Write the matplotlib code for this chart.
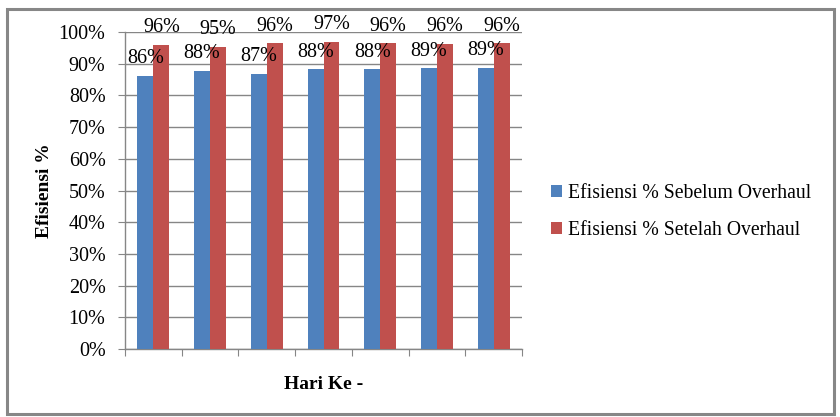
import matplotlib

matplotlib.use("Agg")
import matplotlib.pyplot as plt
from matplotlib.patches import Rectangle
from matplotlib.ticker import FixedLocator, PercentFormatter

# efficiency per day, before and after overhaul (fraction)
days = [1, 2, 3, 4, 5, 6, 7]
sebelum = [0.862, 0.877, 0.868, 0.883, 0.882, 0.886, 0.888]
setelah = [0.960, 0.954, 0.964, 0.970, 0.964, 0.963, 0.964]
series_names = ["Efisiensi % Sebelum Overhaul", "Efisiensi % Setelah Overhaul"]

BLUE = "#4F81BD"
RED = "#C0504D"
GRID = "#868686"

plt.rcParams["font.family"] = ["Liberation Serif", "DejaVu Serif"]
plt.rcParams["font.size"] = 14

fig = plt.figure(figsize=(8.4, 4.17), dpi=100)
ax = fig.add_axes([125 / 840, 68 / 417, 397 / 840, 317 / 417])

x = list(range(len(days)))
w = 0.282
b1 = ax.bar([i - w / 2 for i in x], sebelum, width=w, color=BLUE, label=series_names[0], zorder=3)
b2 = ax.bar([i + w / 2 for i in x], setelah, width=w, color=RED, label=series_names[1], zorder=3)

for bars, vals in ((b1, sebelum), (b2, setelah)):
    for rect, v in zip(bars, vals):
        ax.annotate(f"{v * 100:.0f}%", (rect.get_x() + rect.get_width() / 2, v),
                    xytext=(0, 9), textcoords="offset points",
                    ha="center", va="baseline", fontsize=14.5, zorder=4,
                    annotation_clip=False)

ax.set_xlim(-0.5, len(days) - 0.5)
ax.set_ylim(0, 1.0)
ax.yaxis.set_major_locator(FixedLocator([i / 10 for i in range(11)]))
ax.yaxis.set_major_formatter(PercentFormatter(1.0, decimals=0))
ax.xaxis.set_major_locator(FixedLocator([i - 0.5 for i in range(len(days) + 1)]))
ax.set_xticklabels([])

ax.grid(axis="y", color=GRID, linewidth=1.0, zorder=0)
for s in ("top", "right"):
    ax.spines[s].set_visible(False)
for s in ("left", "bottom"):
    ax.spines[s].set_color(GRID)
    ax.spines[s].set_linewidth(1.0)
ax.tick_params(axis="y", length=5, color=GRID, pad=9, labelsize=14.5)
ax.tick_params(axis="x", length=5, color=GRID)

ax.set_ylabel("Efisiensi %", fontweight="bold", fontsize=14, labelpad=4)
ax.set_xlabel("Hari Ke -", fontweight="bold", fontsize=14, labelpad=11)

fig.legend(loc="center left", bbox_to_anchor=(551 / 840, 1 - 212 / 417),
           frameon=False, fontsize=14.2, handlelength=0.55, handleheight=0.55,
           handletextpad=0.3, labelspacing=0.95, borderpad=0, borderaxespad=0)

# outer chart border
fig.patches.append(Rectangle((7 / 840, 3 / 417), 827 / 840, 405 / 417,
                             transform=fig.transFigure, fill=False,
                             edgecolor="#878787", linewidth=2.2))

fig.savefig("out.png", dpi=100)
